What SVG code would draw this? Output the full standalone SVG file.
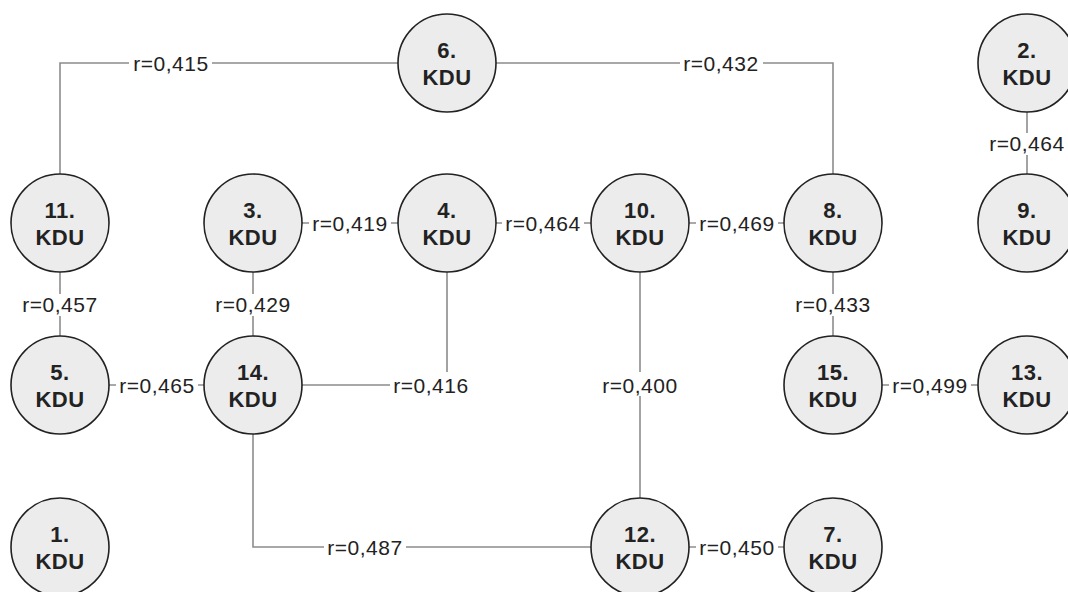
<svg xmlns="http://www.w3.org/2000/svg" width="1068" height="592" viewBox="0 0 1068 592">
<style>
.n circle{fill:#ececec;stroke:#222;stroke-width:1.6}
.n text{font-family:"Liberation Sans",Arial,sans-serif;font-weight:bold;font-size:22px;fill:#222;text-anchor:middle;letter-spacing:0.5px}
.c path{fill:none;stroke:#8c8c8c;stroke-width:1.6}
.c rect{fill:#fff}
.c text{font-family:"Liberation Sans",Arial,sans-serif;font-size:21px;fill:#222;text-anchor:middle;letter-spacing:0.5px}
</style>
<rect width="1068" height="592" fill="#fff"/>
<g id="connectors" class="c">
<path d="M60 175V63H398"/>
<path d="M496 63H833V175"/>
<path d="M1027 111V175"/>
<path d="M60 271V337"/>
<path d="M301 223H399"/>
<path d="M495 223H592"/>
<path d="M688 223H785"/>
<path d="M253 271V337"/>
<path d="M833 271V337"/>
<path d="M108 385H205"/>
<path d="M301 385H447M447 271V372"/>
<path d="M640 271V499"/>
<path d="M881 385H979"/>
<path d="M253 433V547H592"/>
<path d="M688 547H785"/>
<rect x="129" y="53" width="83" height="20"/><text x="171" y="70.5">r=0,415</text>
<rect x="680" y="53" width="83" height="20"/><text x="721" y="70.5">r=0,432</text>
<rect x="986" y="133" width="82" height="22"/><text x="1027" y="151">r=0,464</text>
<rect x="19" y="294" width="82" height="22"/><text x="60" y="312">r=0,457</text>
<rect x="309" y="213" width="82" height="20"/><text x="350" y="230.5">r=0,419</text>
<rect x="502" y="213" width="82" height="20"/><text x="543" y="230.5">r=0,464</text>
<rect x="696" y="213" width="82" height="20"/><text x="737" y="230.5">r=0,469</text>
<rect x="212" y="294" width="82" height="22"/><text x="253" y="312">r=0,429</text>
<rect x="792" y="294" width="82" height="22"/><text x="833" y="312">r=0,433</text>
<rect x="116" y="375" width="82" height="20"/><text x="157" y="392.5">r=0,465</text>
<rect x="390" y="372" width="84" height="24"/><text x="431" y="392.5">r=0,416</text>
<rect x="599" y="372" width="82" height="24"/><text x="640" y="392.5">r=0,400</text>
<rect x="889" y="375" width="82" height="20"/><text x="930" y="392.5">r=0,499</text>
<rect x="324" y="537" width="82" height="20"/><text x="365" y="554.5">r=0,487</text>
<rect x="696" y="537" width="82" height="20"/><text x="737" y="554.5">r=0,450</text>
</g>
<g id="node6" class="n"><circle cx="447" cy="63" r="49"/><text x="447" y="58">6.</text><text x="447" y="85">KDU</text></g>
<g id="node2" class="n"><circle cx="1027" cy="63" r="49"/><text x="1027" y="58">2.</text><text x="1027" y="85">KDU</text></g>
<g id="node11" class="n"><circle cx="60" cy="223" r="49"/><text x="60" y="218">11.</text><text x="60" y="245">KDU</text></g>
<g id="node3" class="n"><circle cx="253" cy="223" r="49"/><text x="253" y="218">3.</text><text x="253" y="245">KDU</text></g>
<g id="node4" class="n"><circle cx="447" cy="223" r="49"/><text x="447" y="218">4.</text><text x="447" y="245">KDU</text></g>
<g id="node10" class="n"><circle cx="640" cy="223" r="49"/><text x="640" y="218">10.</text><text x="640" y="245">KDU</text></g>
<g id="node8" class="n"><circle cx="833" cy="223" r="49"/><text x="833" y="218">8.</text><text x="833" y="245">KDU</text></g>
<g id="node9" class="n"><circle cx="1027" cy="223" r="49"/><text x="1027" y="218">9.</text><text x="1027" y="245">KDU</text></g>
<g id="node5" class="n"><circle cx="60" cy="385" r="49"/><text x="60" y="380">5.</text><text x="60" y="407">KDU</text></g>
<g id="node14" class="n"><circle cx="253" cy="385" r="49"/><text x="253" y="380">14.</text><text x="253" y="407">KDU</text></g>
<g id="node15" class="n"><circle cx="833" cy="385" r="49"/><text x="833" y="380">15.</text><text x="833" y="407">KDU</text></g>
<g id="node13" class="n"><circle cx="1027" cy="385" r="49"/><text x="1027" y="380">13.</text><text x="1027" y="407">KDU</text></g>
<g id="node1" class="n"><circle cx="60" cy="547" r="49"/><text x="60" y="542">1.</text><text x="60" y="569">KDU</text></g>
<g id="node12" class="n"><circle cx="640" cy="547" r="49"/><text x="640" y="542">12.</text><text x="640" y="569">KDU</text></g>
<g id="node7" class="n"><circle cx="833" cy="547" r="49"/><text x="833" y="542">7.</text><text x="833" y="569">KDU</text></g>
</svg>
